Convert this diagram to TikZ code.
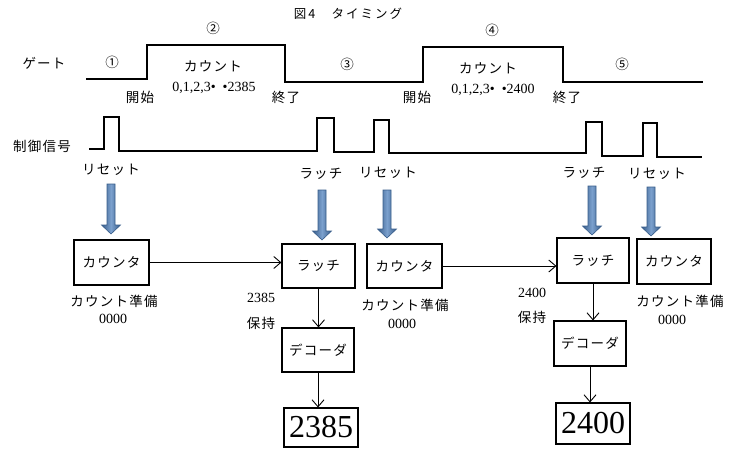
\documentclass[tikz,border=0pt]{standalone}
\usepackage{fontspec}
\setmainfont{Liberation Serif}
\newfontfamily\jp{Noto Sans CJK JP}[LetterSpace=9]
\newfontfamily\jpt{Noto Sans CJK JP}[LetterSpace=16]
\usetikzlibrary{arrows.meta}
\definecolor{arrblue}{HTML}{4F81BD}
\definecolor{arrline}{HTML}{385D8A}
\newcommand\jpl{\jp\fontsize{13.5}{15}\selectfont}
\newcommand\numl{\fontsize{14}{16}\selectfont}
\tikzset{
  wave/.style={line width=1.3pt, line join=miter},
  box/.style={draw, line width=1.1pt, inner sep=0pt, font=\jpl},
  disp/.style={draw, line width=1.1pt, inner sep=0pt, font=\fontsize{32}{34}\selectfont},
  lbl/.style={inner sep=0pt, font=\jpl},
  num/.style={inner sep=0pt, font=\numl},
  conn/.style={line width=0.9pt, -{Straight Barb[length=7pt,width=12pt,line width=0.9pt]}},
}
\newcommand\blarr[3]{%
  \shade[left color=arrline, right color=arrline, middle color=arrblue!75!white, draw=arrline, line width=0.6pt]
   (#1-4,#2) -- (#1+4,#2) -- (#1+4,#3-9) -- (#1+9.5,#3-9) -- (#1,#3) -- (#1-9.5,#3-9) -- (#1-4,#3-9) -- cycle;}
\begin{document}
\begin{tikzpicture}[x=1pt,y=-1pt]
\useasboundingbox (0,0) rectangle (737,453);
% title
\node[lbl, font=\jpt\fontsize{12.5}{14}\selectfont] (title) at (348,14) {図4　タイミング};
% gate waveform
\node[lbl] (gatelbl) at (44,63) {ゲート};
\draw[wave] (86,79) -- (147,79) -- (147,45) -- (285,45) -- (285,82) -- (423,82) -- (423,47) -- (563,47) -- (563,82) -- (703,82);
\node[lbl] (p1) at (112,62) {①};
\node[lbl] (p2) at (213,28) {②};
\node[lbl] (p3) at (347,64) {③};
\node[lbl] (p4) at (492,30) {④};
\node[lbl] (p5) at (622,64) {⑤};
\node[lbl] (cnta) at (213,66) {カウント};
\node[lbl] (cntb) at (488,68) {カウント};
\node[num] (seqa) at (214,88) {0,1,2,3•\ \ •2385};
\node[num] (seqb) at (493,90) {0,1,2,3•\ \ •2400};
\node[lbl] (starta) at (140,97) {開始};
\node[lbl] (enda) at (286,97) {終了};
\node[lbl] (startb) at (417,97) {開始};
\node[lbl] (endb) at (567,97) {終了};
% control waveform
\node[lbl] (ctl) at (42,146) {制御信号};
\draw[wave] (89,149) -- (104,149) -- (104,117) -- (119,117) -- (119,151) -- (317,151) -- (317,118) -- (334,118) -- (334,152) -- (374,152) -- (374,120) -- (389,120) -- (389,153) -- (586,153) -- (586,122) -- (602,122) -- (602,156) -- (643,156) -- (643,123) -- (657,123) -- (657,157) -- (702,157);
\node[lbl] (rs1) at (111,170) {リセット};
\node[lbl] (la1) at (321,174) {ラッチ};
\node[lbl] (rs2) at (388,173) {リセット};
\node[lbl] (la2) at (584,173) {ラッチ};
\node[lbl] (rs3) at (657,174) {リセット};
% block arrows
\blarr{111}{184}{234}
\blarr{322}{190}{240}
\blarr{387}{190}{238}
\blarr{592}{186}{235}
\blarr{651}{187}{236}
% boxes
\node[box, minimum width=75pt, minimum height=45pt] (cnt1) at (111.5,262.5) {カウンタ};
\node[box, minimum width=73pt, minimum height=44pt] (lat1) at (318.5,266) {ラッチ};
\node[box, minimum width=72pt, minimum height=44pt] (dec1) at (318,350) {デコーダ};
\node[disp, minimum width=74pt, minimum height=39pt] (disp1) at (321,427.5) {2385};
\node[box, minimum width=75pt, minimum height=44pt] (cnt2) at (404.5,266) {カウンタ};
\node[box, minimum width=72pt, minimum height=45pt] (lat2) at (593,260.5) {ラッチ};
\node[box, minimum width=74pt, minimum height=45pt] (cnt3) at (674,261.5) {カウンタ};
\node[box, minimum width=72pt, minimum height=45pt] (dec2) at (590,343.5) {デコーダ};
\node[disp, minimum width=74pt, minimum height=41pt] (disp2) at (593,423.5) {2400};
% connectors
\draw[conn] (cnt1.east) -- (cnt1.east -| lat1.west);
\draw[conn] (cnt2.east) -- (cnt2.east -| lat2.west);
\draw[conn] (lat1.south) -- (lat1.south |- dec1.north);
\draw[conn] (dec1.south) -- (dec1.south |- disp1.north);
\draw[conn] (lat2.south) -- (lat2.south |- dec2.north);
\draw[conn] (dec2.south) -- (dec2.south |- disp2.north);
% labels under boxes
\node[lbl] (prep1) at (114,301) {カウント準備};
\node[num] (z1) at (113,319) {0000};
\node[num] (h1) at (261,298) {2385};
\node[lbl] (k1) at (261,323) {保持};
\node[lbl] (prep2) at (405,305) {カウント準備};
\node[num] (z2) at (402,324) {0000};
\node[num] (h2) at (532,293) {2400};
\node[lbl] (k2) at (532,317) {保持};
\node[lbl] (prep3) at (680,301) {カウント準備};
\node[num] (z3) at (672,320) {0000};
\end{tikzpicture}
\end{document}
